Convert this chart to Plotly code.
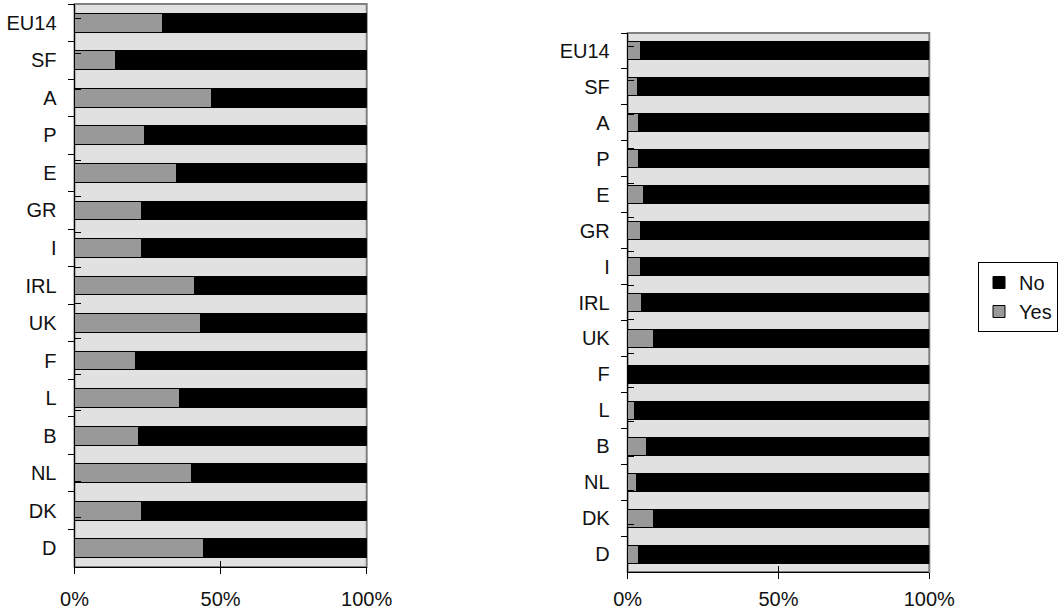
import plotly.graph_objects as go

countries = ["EU14", "SF", "A", "P", "E", "GR", "I", "IRL", "UK", "F", "L", "B", "NL", "DK", "D"]

left_yes = [30, 14, 47, 24, 35, 23, 23, 41, 43, 21, 36, 22, 40, 23, 44]
left_no = [100 - v for v in left_yes]

right_yes = [4.4, 3.2, 3.7, 3.7, 5.2, 4.4, 4.1, 4.6, 8.5, 0, 2.1, 6.1, 2.8, 8.6, 3.6]
right_no = [100 - v for v in right_yes]

x_ticks = [0, 50, 100]
x_tick_text = ["0%", "50%", "100%"]

YES_COLOR = "#999999"
NO_COLOR = "#000000"
BG = "#e1e1e1"
FONT = "Liberation Sans, Arial, sans-serif"
FS = 20

fig = go.Figure()

def add_pair(yes, no, xa, ya, show):
    fig.add_trace(go.Bar(y=countries, x=yes, orientation="h", name="Yes",
                         marker=dict(color=YES_COLOR, line=dict(color="#000", width=1)),
                         width=0.5, xaxis=xa, yaxis=ya, showlegend=show, legendrank=2))
    fig.add_trace(go.Bar(y=countries, x=no, orientation="h", name="No",
                         marker=dict(color=NO_COLOR, line=dict(color="#000", width=1)),
                         width=0.5, xaxis=xa, yaxis=ya, showlegend=show, legendrank=1))

add_pair(left_yes, left_no, "x", "y", True)
add_pair(right_yes, right_no, "x2", "y2", False)

# invisible helper traces so overlay axes (inner half of crossing ticks) know the categories
fig.add_trace(go.Scatter(y=countries, x=left_yes, mode="markers", opacity=0,
                         xaxis="x3", yaxis="y3", showlegend=False, hoverinfo="skip"))
fig.add_trace(go.Scatter(y=countries, x=right_yes, mode="markers", opacity=0,
                         xaxis="x4", yaxis="y4", showlegend=False, hoverinfo="skip"))

W, H = 1061, 611
def dx(a, b):
    return [a / W, b / W]
def dy(top, bottom):
    return [1 - bottom / H, 1 - top / H]

xcommon = dict(range=[0, 100], tickvals=x_ticks, ticktext=x_tick_text, showline=True,
               linecolor="#000", linewidth=1, ticks="outside", ticklen=6, tickcolor="#000",
               showgrid=False, zeroline=False, fixedrange=True,
               automargin=False,
               tickfont=dict(size=FS, color="#111", family=FONT))
ycommon = dict(type="category", autorange="reversed", showline=True, linecolor="#000",
               linewidth=1, ticks="outside", ticklen=6, tickcolor="#000", tickson="boundaries",
               showgrid=False, ticklabelstandoff=13, automargin=False, fixedrange=True,
               tickfont=dict(size=FS, color="#111", family=FONT))
xin = dict(range=[0, 100], tickvals=x_ticks, showticklabels=False, showline=False,
           ticks="inside", ticklen=6, tickcolor="#000", showgrid=False, zeroline=False,
           automargin=False, fixedrange=True)
yin = dict(type="category", autorange="reversed", showline=False, ticks="inside", ticklen=6,
           tickcolor="#000", tickson="boundaries", showgrid=False, showticklabels=False,
           automargin=False, fixedrange=True)

LD = dx(74.5, 366.7)
LY = dy(4, 567)
RD = dx(627.7, 929.3)
RY = dy(33, 572)

fig.update_layout(
    width=W, height=H,
    margin=dict(l=0, r=0, t=0, b=0),
    paper_bgcolor="white",
    plot_bgcolor=BG,
    barmode="stack",
    font=dict(family=FONT, size=FS, color="#111"),
    xaxis=dict(domain=LD, anchor="y", ticklabelstandoff=8, **xcommon),
    yaxis=dict(domain=LY, anchor="x", **ycommon),
    xaxis2=dict(domain=RD, anchor="y2", ticklabelstandoff=3, **xcommon),
    yaxis2=dict(domain=RY, anchor="x2", **ycommon),
    xaxis3=dict(domain=LD, anchor="y", overlaying="x", **xin),
    yaxis3=dict(domain=LY, anchor="x", overlaying="y", **yin),
    xaxis4=dict(domain=RD, anchor="y2", overlaying="x2", **xin),
    yaxis4=dict(domain=RY, anchor="x2", overlaying="y2", **yin),
    legend=dict(x=978 / W, y=1 - 262 / H, xanchor="left", yanchor="top",
                bordercolor="#000", borderwidth=1, bgcolor="white",
                font=dict(size=FS, family=FONT, color="#111"),
                itemwidth=30, tracegroupgap=0, traceorder="normal"),
    showlegend=True,
)

for xr, yr in [("x", "y"), ("x2", "y2")]:
    fig.add_shape(type="rect", xref=f"{xr} domain", yref=f"{yr} domain",
                  x0=0, x1=1, y0=0, y1=1, line=dict(color="#808080", width=2),
                  fillcolor="rgba(0,0,0,0)", layer="below")

fig.write_html("out.html", config={"displayModeBar": False},
               post_script="document.body.style.margin='0';document.body.style.overflow='hidden';")
